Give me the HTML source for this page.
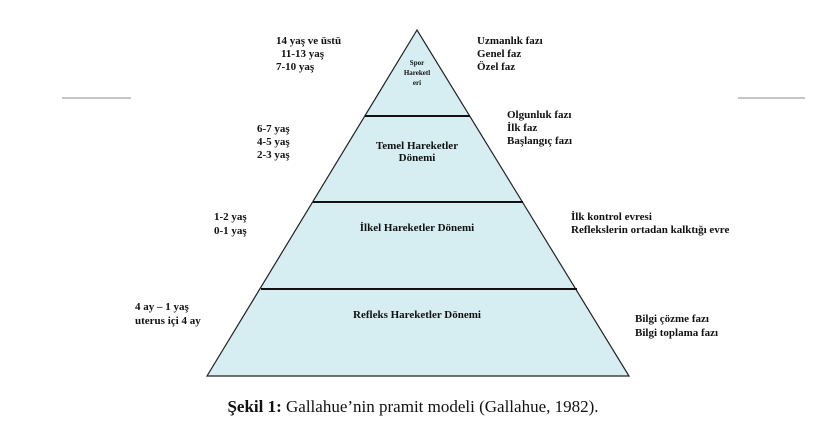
<!DOCTYPE html>
<html><head><meta charset="utf-8"><style>
body{margin:0;background:#fff}
svg text{font-family:"Liberation Serif",serif;font-weight:bold;font-size:11px;fill:#111}
</style></head><body>
<svg width="825" height="434" viewBox="0 0 825 434" xmlns="http://www.w3.org/2000/svg">
<polygon points="417,30 207,376 629,376" fill="#d6eef2" stroke="#222" stroke-width="1.2"/>
<line x1="365" y1="116" x2="470" y2="116" stroke="#111" stroke-width="2"/>
<line x1="313" y1="202" x2="523" y2="202" stroke="#111" stroke-width="2"/>
<line x1="261" y1="289" x2="577" y2="289" stroke="#111" stroke-width="2"/>
<line x1="62" y1="98" x2="131" y2="98" stroke="#888" stroke-width="1"/>
<line x1="738" y1="98" x2="805" y2="98" stroke="#888" stroke-width="1"/>
<g text-anchor="middle">
<text x="417" y="65" style="font-size:7px">Spor</text>
<text x="417" y="75" style="font-size:7px">Hareketl</text>
<text x="417" y="85" style="font-size:7px">eri</text>
<text x="417" y="149">Temel Hareketler</text>
<text x="417" y="161">Dönemi</text>
<text x="417" y="231">İlkel Hareketler Dönemi</text>
<text x="417" y="318">Refleks Hareketler Dönemi</text>
</g>
<text x="276" y="44">14 yaş ve üstü</text>
<text x="276" y="57" dx="5">11-13 yaş</text>
<text x="276" y="70" dx="0">7-10 yaş</text>
<text x="477" y="44">Uzmanlık fazı</text>
<text x="477" y="57">Genel faz</text>
<text x="477" y="70">Özel faz</text>
<text x="507" y="118">Olgunluk fazı</text>
<text x="507" y="131">İlk faz</text>
<text x="507" y="144">Başlangıç fazı</text>
<text x="257" y="132">6-7 yaş</text>
<text x="257" y="145">4-5 yaş</text>
<text x="257" y="158">2-3  yaş</text>
<text x="214" y="220">1-2 yaş</text>
<text x="214" y="234">0-1 yaş</text>
<text x="571" y="220">İlk kontrol evresi</text>
<text x="571" y="233">Reflekslerin ortadan kalktığı evre</text>
<text x="135" y="310">4 ay – 1 yaş</text>
<text x="135" y="324">uterus içi 4 ay</text>
<text x="635" y="322">Bilgi çözme fazı</text>
<text x="635" y="336">Bilgi toplama fazı</text>
<text x="413" y="412" text-anchor="middle" style="font-size:17px;font-weight:normal"><tspan font-weight="bold">Şekil 1:</tspan>  Gallahue’nin pramit modeli (Gallahue, 1982).</text>
</svg>
</body></html>
